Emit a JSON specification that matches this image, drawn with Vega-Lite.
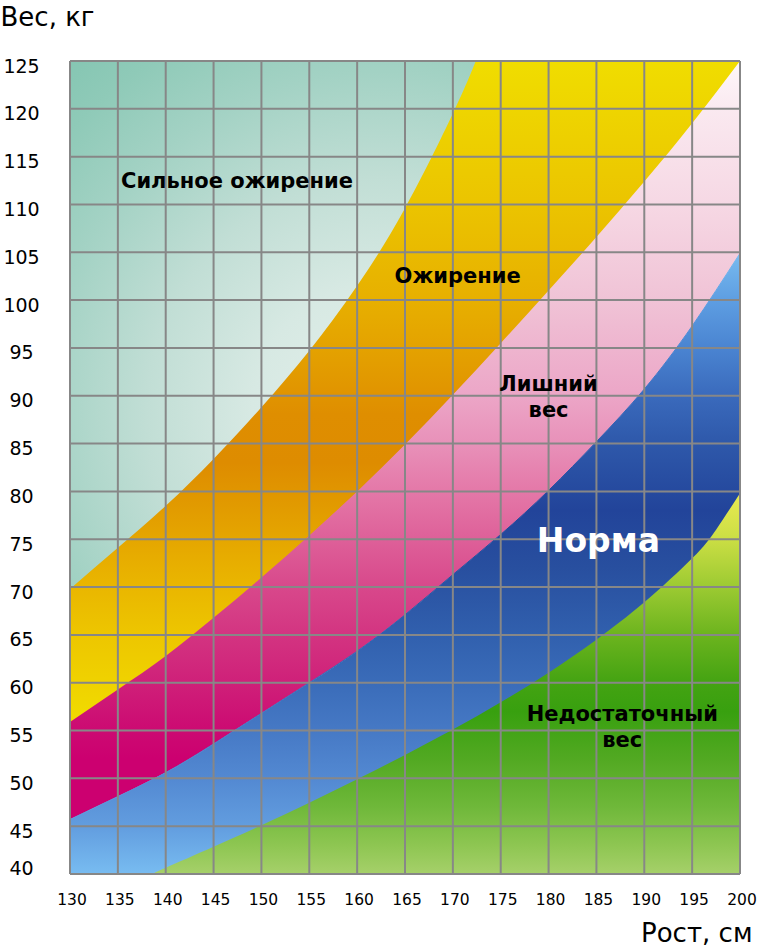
{
  "$schema": "https://vega.github.io/schema/vega-lite/v6.json",
  "width": 670,
  "height": 813,
  "autosize": {"type": "none"},
  "padding": {"left": 70, "top": 61, "right": 23, "bottom": 76},
  "background": "white",
  "config": {"view": {"stroke": null}, "font": "DejaVu Sans"},
  "datasets": {
    "boundaries": [
      {"category": "severe", "height": 130, "weight": 69.8},
      {"category": "severe", "height": 135, "weight": 74.1},
      {"category": "severe", "height": 140, "weight": 78.5},
      {"category": "severe", "height": 145, "weight": 83.4},
      {"category": "severe", "height": 150, "weight": 88.8},
      {"category": "severe", "height": 155, "weight": 94.7},
      {"category": "severe", "height": 160, "weight": 101.5},
      {"category": "severe", "height": 165, "weight": 109.6},
      {"category": "severe", "height": 170, "weight": 119.5},
      {"category": "severe", "height": 172.4, "weight": 125},
      {"category": "obese", "height": 130, "weight": 55.9},
      {"category": "obese", "height": 135, "weight": 59.3},
      {"category": "obese", "height": 140, "weight": 62.8},
      {"category": "obese", "height": 145, "weight": 66.8},
      {"category": "obese", "height": 150, "weight": 71.0},
      {"category": "obese", "height": 155, "weight": 75.4},
      {"category": "obese", "height": 160, "weight": 80.0},
      {"category": "obese", "height": 165, "weight": 84.9},
      {"category": "obese", "height": 170, "weight": 90.1},
      {"category": "obese", "height": 175, "weight": 95.5},
      {"category": "obese", "height": 180, "weight": 101.0},
      {"category": "obese", "height": 185, "weight": 106.6},
      {"category": "obese", "height": 190, "weight": 112.4},
      {"category": "obese", "height": 195, "weight": 118.5},
      {"category": "obese", "height": 200, "weight": 125},
      {"category": "overweight", "height": 130, "weight": 45.7},
      {"category": "overweight", "height": 135, "weight": 48.1},
      {"category": "overweight", "height": 140, "weight": 50.6},
      {"category": "overweight", "height": 145, "weight": 53.6},
      {"category": "overweight", "height": 150, "weight": 56.8},
      {"category": "overweight", "height": 155, "weight": 60.0},
      {"category": "overweight", "height": 160, "weight": 63.3},
      {"category": "overweight", "height": 165, "weight": 67.1},
      {"category": "overweight", "height": 170, "weight": 71.3},
      {"category": "overweight", "height": 175, "weight": 75.5},
      {"category": "overweight", "height": 180, "weight": 80.1},
      {"category": "overweight", "height": 185, "weight": 85.2},
      {"category": "overweight", "height": 190, "weight": 90.7},
      {"category": "overweight", "height": 195, "weight": 97.3},
      {"category": "overweight", "height": 200, "weight": 104.9},
      {"category": "normal", "height": 138.6, "weight": 40},
      {"category": "normal", "height": 140, "weight": 40.65},
      {"category": "normal", "height": 145, "weight": 42.85},
      {"category": "normal", "height": 150, "weight": 45.1},
      {"category": "normal", "height": 155, "weight": 47.45},
      {"category": "normal", "height": 160, "weight": 49.9},
      {"category": "normal", "height": 165, "weight": 52.45},
      {"category": "normal", "height": 170, "weight": 55.1},
      {"category": "normal", "height": 175, "weight": 57.95},
      {"category": "normal", "height": 180, "weight": 61.05},
      {"category": "normal", "height": 185, "weight": 64.5},
      {"category": "normal", "height": 190, "weight": 68.4},
      {"category": "normal", "height": 195, "weight": 73.0},
      {"category": "normal", "height": 197.5, "weight": 76.0},
      {"category": "normal", "height": 200, "weight": 79.8}
    ],
    "heightLines": [
      {"height": 130}, {"height": 135}, {"height": 140}, {"height": 145}, {"height": 150},
      {"height": 155}, {"height": 160}, {"height": 165}, {"height": 170}, {"height": 175},
      {"height": 180}, {"height": 185}, {"height": 190}, {"height": 195}, {"height": 200}
    ],
    "weightLines": [
      {"weight": 40}, {"weight": 45}, {"weight": 50}, {"weight": 55}, {"weight": 60}, {"weight": 65},
      {"weight": 70}, {"weight": 75}, {"weight": 80}, {"weight": 85}, {"weight": 90}, {"weight": 95},
      {"weight": 100}, {"weight": 105}, {"weight": 110}, {"weight": 115}, {"weight": 120}, {"weight": 125}
    ],
    "labels": [
      {"label": "Сильное ожирение", "height": 147.45, "weight": 112.4},
      {"label": "Ожирение", "height": 170.5, "weight": 102.4},
      {"label": "Лишний\nвес", "height": 180.0, "weight": 91.1},
      {"label": "Норма", "height": 185.2, "weight": 74.7},
      {"label": "Недостаточный\nвес", "height": 187.7, "weight": 56.6}
    ]
  },
  "layer": [
    {
      "data": {"name": "boundaries"},
      "transform": [{"filter": "datum.category === 'overweight'"}],
      "mark": {
        "type": "area", "orient": "vertical", "interpolate": "natural", "clip": true,
        "color": {
          "gradient": "linear", "x1": 0, "y1": 0, "x2": 0, "y2": 1,
          "stops": [
            {"offset": 0, "color": "#fef8fa"},
            {"offset": 0.063, "color": "#fae9f0"},
            {"offset": 0.189, "color": "#f6d8e4"},
            {"offset": 0.315, "color": "#f0c3d6"},
            {"offset": 0.441, "color": "#eca6c7"},
            {"offset": 0.504, "color": "#e891b9"},
            {"offset": 0.567, "color": "#e478a8"},
            {"offset": 0.63, "color": "#de6099"},
            {"offset": 0.694, "color": "#d8488b"},
            {"offset": 0.757, "color": "#d33481"},
            {"offset": 0.82, "color": "#cf2079"},
            {"offset": 0.883, "color": "#cc0a72"},
            {"offset": 0.92, "color": "#cc0070"},
            {"offset": 1, "color": "#cc0070"}
          ]
        }
      },
      "encoding": {
        "x": {
          "field": "height", "type": "quantitative",
          "scale": {"domain": [130, 200], "nice": false, "zero": false},
          "axis": {
            "title": "Рост, см",
            "values": [130, 135, 140, 145, 150, 155, 160, 165, 170, 175, 180, 185, 190, 195, 200],
            "grid": false, "ticks": false, "tickSize": 0, "domain": false,
            "labelFont": "DejaVu Sans", "labelFontSize": 15.5, "labelColor": "#000000",
            "labelPadding": 25, "labelBaseline": "middle", "labelOffset": 1.5,
            "labelFlush": false, "labelOverlap": false,
            "titleFont": "DejaVu Sans", "titleFontSize": 26, "titleFontWeight": "normal", "titleColor": "#000000",
            "titleX": 682, "titleY": 67, "titleAlign": "right", "titleBaseline": "alphabetic"
          }
        },
        "y": {
          "field": "weight", "type": "quantitative",
          "scale": {"domain": [40, 125], "nice": false, "zero": false},
          "axis": {
            "title": "Вес, кг",
            "values": [40, 45, 50, 55, 60, 65, 70, 75, 80, 85, 90, 95, 100, 105, 110, 115, 120, 125],
            "grid": false, "ticks": false, "tickSize": 0, "domain": false,
            "labelFont": "DejaVu Sans", "labelFontSize": 19, "labelColor": "#000000",
            "labelAlign": "center", "labelPadding": 49, "labelBaseline": "middle",
            "labelOffset": {"condition": {"test": "datum.value === 40", "value": -6}, "value": 5},
            "labelFlush": false, "labelOverlap": false,
            "titleFont": "DejaVu Sans", "titleFontSize": 26, "titleFontWeight": "normal", "titleColor": "#000000",
            "titleAngle": 0, "titleX": -70, "titleY": -36, "titleAlign": "left", "titleBaseline": "alphabetic"
          }
        },
        "y2": {"datum": 125}
      }
    },
    {
      "data": {"name": "boundaries"},
      "transform": [{"filter": "datum.category === 'overweight'"}],
      "mark": {
        "type": "area", "orient": "vertical", "interpolate": "natural", "clip": true,
        "strokeWidth": 1,
        "color": {
          "gradient": "linear", "x1": 0, "y1": 0, "x2": 0, "y2": 1,
          "stops": [
            {"offset": 0, "color": "#78bbef"},
            {"offset": 0.075, "color": "#5e9ee2"},
            {"offset": 0.153, "color": "#4a84d1"},
            {"offset": 0.23, "color": "#3a6abc"},
            {"offset": 0.307, "color": "#2e58aa"},
            {"offset": 0.414, "color": "#22449a"},
            {"offset": 0.507, "color": "#284f9f"},
            {"offset": 0.615, "color": "#3160ae"},
            {"offset": 0.692, "color": "#3a6cb9"},
            {"offset": 0.769, "color": "#4679c5"},
            {"offset": 0.846, "color": "#5389d2"},
            {"offset": 0.923, "color": "#629ddf"},
            {"offset": 1, "color": "#78bcf1"}
          ]
        },
        "stroke": {
          "gradient": "linear", "x1": 0, "y1": 0, "x2": 0, "y2": 1,
          "stops": [
            {"offset": 0, "color": "#78bbef"},
            {"offset": 0.075, "color": "#5e9ee2"},
            {"offset": 0.153, "color": "#4a84d1"},
            {"offset": 0.23, "color": "#3a6abc"},
            {"offset": 0.307, "color": "#2e58aa"},
            {"offset": 0.414, "color": "#22449a"},
            {"offset": 0.507, "color": "#284f9f"},
            {"offset": 0.615, "color": "#3160ae"},
            {"offset": 0.692, "color": "#3a6cb9"},
            {"offset": 0.769, "color": "#4679c5"},
            {"offset": 0.846, "color": "#5389d2"},
            {"offset": 0.923, "color": "#629ddf"},
            {"offset": 1, "color": "#78bcf1"}
          ]
        }
      },
      "encoding": {
        "x": {"field": "height", "type": "quantitative"},
        "y": {"field": "weight", "type": "quantitative"},
        "y2": {"datum": 40}
      }
    },
    {
      "data": {"name": "boundaries"},
      "transform": [{"filter": "datum.category === 'normal'"}],
      "mark": {
        "type": "area", "orient": "vertical", "interpolate": "natural", "clip": true,
        "color": {
          "gradient": "linear", "x1": 0, "y1": 0, "x2": 0, "y2": 1,
          "stops": [
            {"offset": 0, "color": "#e9ea52"},
            {"offset": 0.12, "color": "#cbde44"},
            {"offset": 0.246, "color": "#9cca32"},
            {"offset": 0.372, "color": "#6cb41e"},
            {"offset": 0.497, "color": "#44a312"},
            {"offset": 0.573, "color": "#38a00f"},
            {"offset": 0.698, "color": "#52a922"},
            {"offset": 0.824, "color": "#6fb83a"},
            {"offset": 0.925, "color": "#8ec652"},
            {"offset": 1, "color": "#a6d06a"}
          ]
        }
      },
      "encoding": {
        "x": {"field": "height", "type": "quantitative"},
        "y": {"field": "weight", "type": "quantitative"},
        "y2": {"datum": 40}
      }
    },
    {
      "data": {"name": "boundaries"},
      "transform": [{"filter": "datum.category === 'obese'"}],
      "mark": {
        "type": "area", "orient": "vertical", "interpolate": "natural", "clip": true,
        "color": {
          "gradient": "linear", "x1": 0, "y1": 0, "x2": 0, "y2": 1,
          "stops": [
            {"offset": 0, "color": "#f0dd00"},
            {"offset": 0.072, "color": "#eed500"},
            {"offset": 0.217, "color": "#ebc400"},
            {"offset": 0.36, "color": "#e7b000"},
            {"offset": 0.434, "color": "#e4a200"},
            {"offset": 0.535, "color": "#df8e00"},
            {"offset": 0.608, "color": "#de8c00"},
            {"offset": 0.68, "color": "#e29c00"},
            {"offset": 0.767, "color": "#e8b000"},
            {"offset": 0.868, "color": "#edc600"},
            {"offset": 1, "color": "#f1dc00"}
          ]
        }
      },
      "encoding": {
        "x": {"field": "height", "type": "quantitative"},
        "y": {"field": "weight", "type": "quantitative"},
        "y2": {"datum": 125}
      }
    },
    {
      "data": {"name": "boundaries"},
      "transform": [{"filter": "datum.category === 'severe'"}],
      "mark": {
        "type": "area", "orient": "vertical", "interpolate": "natural", "clip": true,
        "color": {
          "gradient": "radial", "x1": 0.71, "y1": 0.67, "r1": 0, "x2": 0.71, "y2": 0.67, "r2": 1,
          "stops": [
            {"offset": 0, "color": "#e4efeb"},
            {"offset": 0.25, "color": "#d7e9e3"},
            {"offset": 0.45, "color": "#c1ded5"},
            {"offset": 0.65, "color": "#a3d2c4"},
            {"offset": 0.8, "color": "#8fcab8"},
            {"offset": 1, "color": "#7bc2ad"}
          ]
        }
      },
      "encoding": {
        "x": {"field": "height", "type": "quantitative"},
        "y": {"field": "weight", "type": "quantitative"},
        "y2": {"datum": 125}
      }
    },
    {
      "data": {"name": "heightLines"},
      "mark": {"type": "rule", "color": "#878787", "strokeWidth": 2},
      "encoding": {"x": {"field": "height", "type": "quantitative"}}
    },
    {
      "data": {"name": "weightLines"},
      "mark": {"type": "rule", "color": "#878787", "strokeWidth": 2},
      "encoding": {"y": {"field": "weight", "type": "quantitative"}}
    },
    {
      "data": {"name": "labels"},
      "transform": [{"filter": "datum.label !== 'Норма'"}],
      "mark": {
        "type": "text", "font": "DejaVu Sans", "fontWeight": "bold", "fontSize": 21,
        "color": "#000000", "align": "center", "baseline": "middle",
        "lineBreak": "\n", "lineHeight": 26
      },
      "encoding": {
        "x": {"field": "height", "type": "quantitative"},
        "y": {"field": "weight", "type": "quantitative"},
        "text": {"field": "label"}
      }
    },
    {
      "data": {"name": "labels"},
      "transform": [{"filter": "datum.label === 'Норма'"}],
      "mark": {
        "type": "text", "font": "DejaVu Sans", "fontWeight": "bold", "fontSize": 33,
        "color": "#ffffff", "align": "center", "baseline": "middle"
      },
      "encoding": {
        "x": {"field": "height", "type": "quantitative"},
        "y": {"field": "weight", "type": "quantitative"},
        "text": {"field": "label"}
      }
    }
  ]
}
